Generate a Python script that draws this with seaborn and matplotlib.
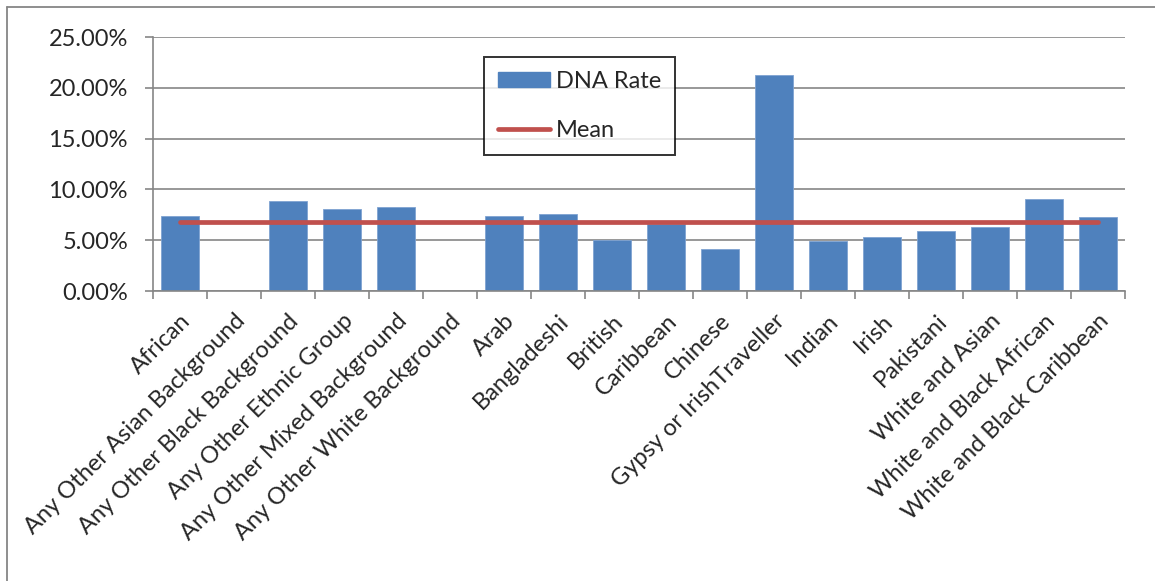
import numpy as np
import pandas as pd
import matplotlib
matplotlib.use("Agg")
import matplotlib.pyplot as plt
from matplotlib.lines import Line2D
from matplotlib.patches import Patch
import seaborn as sns

categories = [
    "African", "Any Other Asian Background", "Any Other Black Background",
    "Any Other Ethnic Group", "Any Other Mixed Background", "Any Other White Background",
    "Arab", "Bangladeshi", "British", "Caribbean", "Chinese", "Gypsy or IrishTraveller",
    "Indian", "Irish", "Pakistani", "White and Asian", "White and Black African",
    "White and Black Caribbean",
]
dna_rate = [
    0.0737, np.nan, 0.0885, 0.0806, 0.0829, np.nan, 0.0734, 0.0760, 0.0500,
    0.0664, 0.0411, 0.2125, 0.0493, 0.0530, 0.0592, 0.0632, 0.0908, 0.0724,
]
mean_rate = [0.0684] * len(categories)
y_ticks = [0.0, 0.05, 0.10, 0.15, 0.20, 0.25]

BAR = "#4F81BD"
MEAN = "#C0504D"
GRID = "#868686"
FONT = "Lato"
FS = 17

sns.set_theme(style="white")
plt.rcParams["font.family"] = [FONT, "DejaVu Sans"]

W, H = 1155, 581
fig = plt.figure(figsize=(W / 100, H / 100), dpi=100)
ax = fig.add_axes([153 / W, 1 - 291 / H, (1125 - 153) / W, (291 - 37) / H])

df = pd.DataFrame({"group": categories, "rate": dna_rate})
sns.barplot(data=df, x="group", y="rate", order=categories, color=BAR,
            saturation=1, width=0.71, errorbar=None, ax=ax,
            edgecolor="#7FA3D2", linewidth=0.6, zorder=2)

xpos = np.arange(len(categories))
ax.plot(xpos, mean_rate, color=MEAN, lw=3.4, solid_capstyle="round", zorder=3)

ax.set_xlim(-0.5, len(categories) - 0.5)
ax.set_ylim(0, 0.25)
ax.set_yticks(y_ticks)
ax.set_yticklabels([f"{v * 100:.2f}%" for v in y_ticks])
ax.yaxis.grid(True, color=GRID, lw=1.2)
ax.set_axisbelow(True)

# category boundary ticks on x
ax.set_xticks(np.arange(-0.5, len(categories) + 0.5, 1.0))
ax.set_xticklabels([])
ax.set_xticks(xpos, minor=True)
ax.set_xticklabels(categories, minor=True, rotation=45, ha="right",
                   rotation_mode="anchor", fontsize=FS)
ax.tick_params(axis="x", which="major", direction="out", length=6, width=1.2,
               color=GRID, bottom=True)
ax.tick_params(axis="x", which="minor", length=0, pad=14, labelsize=FS)
ax.tick_params(axis="y", direction="out", length=6, width=1.2, color=GRID,
               left=True, pad=12, labelsize=FS)

for s in ["top", "right"]:
    ax.spines[s].set_visible(False)
for s in ["left", "bottom"]:
    ax.spines[s].set_color(GRID)
    ax.spines[s].set_linewidth(1.2)

ax.set_xlabel("")
ax.set_ylabel("")

handles = [Patch(facecolor=BAR, edgecolor=BAR),
           Line2D([0], [0], color=MEAN, lw=3.4, solid_capstyle="round")]
leg = fig.legend(handles, ["DNA Rate", "Mean"], loc="upper left",
                 bbox_to_anchor=(484 / W, 1 - 57 / H), frameon=True,
                 fancybox=False, fontsize=FS, handlelength=2.2,
                 handleheight=0.6, handletextpad=0.25, labelspacing=1.16,
                 borderpad=0.6, borderaxespad=0)
leg.get_frame().set_edgecolor("black")
leg.get_frame().set_linewidth(1.4)

# chart area border
fig.add_artist(Line2D([6.5 / W, 6.5 / W], [0, 1 - 6.5 / H], color=GRID, lw=1.3,
                      transform=fig.transFigure))
fig.add_artist(Line2D([6.5 / W, 1], [1 - 6.5 / H, 1 - 6.5 / H], color=GRID, lw=1.3,
                      transform=fig.transFigure))

fig.savefig("out.png", dpi=100)
